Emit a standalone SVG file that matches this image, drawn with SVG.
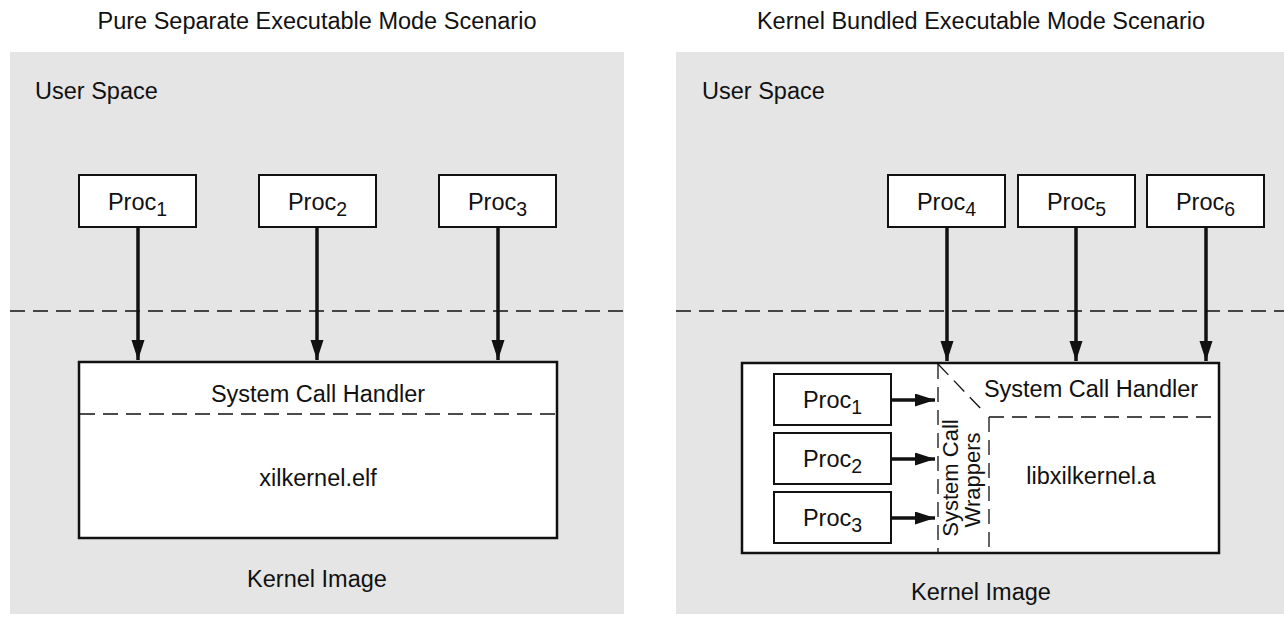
<svg xmlns="http://www.w3.org/2000/svg" width="1284" height="620" viewBox="0 0 1284 620">
<defs>
<style>
text{font-family:"Liberation Sans",Arial,Helvetica,sans-serif;font-size:23.5px;fill:#111}
.c{text-anchor:middle}
.sub{font-size:19.5px}
.panel{fill:#e5e5e5}
.box{fill:#fff;stroke:#111;stroke-width:2}
.big{fill:#fff;stroke:#111;stroke-width:2.5}
.dash{fill:none;stroke:#111;stroke-width:1.3;stroke-dasharray:15 8}
.arr{fill:none;stroke:#111;stroke-width:3.5}
</style>
<marker id="ah" markerUnits="userSpaceOnUse" markerWidth="22" markerHeight="14" refX="20" refY="6.5" orient="auto">
<path d="M0,0 L20,6.5 L0,13 Z" fill="#111"/>
</marker>
</defs>
<rect width="1284" height="620" fill="#fff"/>

<g id="left-panel">
<text class="c" x="317" y="29">Pure Separate Executable Mode Scenario</text>
<rect class="panel" x="10" y="52" width="614" height="562"/>
<text x="35" y="99">User Space</text>
<line class="dash" x1="10" y1="311" x2="624" y2="311"/>
<text class="c" x="317" y="587">Kernel Image</text>
</g>

<g id="right-panel">
<text class="c" x="981" y="29">Kernel Bundled Executable Mode Scenario</text>
<rect class="panel" x="676" y="52" width="608" height="562"/>
<text x="702" y="99">User Space</text>
<line class="dash" x1="676" y1="311" x2="1284" y2="311"/>
<text class="c" x="981" y="600">Kernel Image</text>
</g>

<g id="left-kernel">
<rect class="big" x="79" y="362" width="478" height="176"/>
<line class="dash" x1="80" y1="414" x2="556" y2="414"/>
<text class="c" x="318" y="402">System Call Handler</text>
<text class="c" x="318" y="486">xilkernel.elf</text>
</g>

<g id="left-proc1"><rect class="box" x="79" y="175" width="117" height="52"/><text class="c" x="137.5" y="210">Proc<tspan class="sub" dy="6">1</tspan></text></g>
<g id="left-proc2"><rect class="box" x="259" y="175" width="117" height="52"/><text class="c" x="317.5" y="210">Proc<tspan class="sub" dy="6">2</tspan></text></g>
<g id="left-proc3"><rect class="box" x="439" y="175" width="117" height="52"/><text class="c" x="497.5" y="210">Proc<tspan class="sub" dy="6">3</tspan></text></g>

<g id="right-kernel">
<rect class="big" x="742" y="363" width="477" height="190"/>
<line class="dash" x1="938" y1="364" x2="938" y2="552"/>
<line class="dash" x1="938" y1="364" x2="983" y2="411" stroke-dasharray="14 8"/>
<line class="dash" x1="989" y1="417" x2="1218" y2="417"/>
<line class="dash" x1="989" y1="417" x2="989" y2="552"/>
<text class="c" x="1091" y="397">System Call Handler</text>
<text class="c" x="1091" y="484">libxilkernel.a</text>
<text class="c" style="font-size:22px" transform="translate(958,478) rotate(-90)">System Call</text>
<text class="c" style="font-size:22px" transform="translate(980,480) rotate(-90)">Wrappers</text>
</g>

<g id="inner-proc1"><rect class="box" x="774" y="374" width="117" height="51"/><text class="c" x="832.5" y="408">Proc<tspan class="sub" dy="6">1</tspan></text></g>
<g id="inner-proc2"><rect class="box" x="774" y="433" width="117" height="51"/><text class="c" x="832.5" y="467">Proc<tspan class="sub" dy="6">2</tspan></text></g>
<g id="inner-proc3"><rect class="box" x="774" y="492" width="117" height="51"/><text class="c" x="832.5" y="526">Proc<tspan class="sub" dy="6">3</tspan></text></g>

<g id="right-proc4"><rect class="box" x="888" y="175" width="117" height="52"/><text class="c" x="946.5" y="210">Proc<tspan class="sub" dy="6">4</tspan></text></g>
<g id="right-proc5"><rect class="box" x="1018" y="175" width="117" height="52"/><text class="c" x="1076.5" y="210">Proc<tspan class="sub" dy="6">5</tspan></text></g>
<g id="right-proc6"><rect class="box" x="1147" y="175" width="117" height="52"/><text class="c" x="1205.5" y="210">Proc<tspan class="sub" dy="6">6</tspan></text></g>

<g id="connectors">
<line class="arr" x1="138" y1="227" x2="138" y2="360" marker-end="url(#ah)"/>
<line class="arr" x1="317" y1="227" x2="317" y2="360" marker-end="url(#ah)"/>
<line class="arr" x1="498" y1="227" x2="498" y2="360" marker-end="url(#ah)"/>
<line class="arr" x1="947" y1="227" x2="947" y2="361" marker-end="url(#ah)"/>
<line class="arr" x1="1076" y1="227" x2="1076" y2="361" marker-end="url(#ah)"/>
<line class="arr" x1="1206" y1="227" x2="1206" y2="361" marker-end="url(#ah)"/>
<line class="arr" x1="891" y1="400" x2="935" y2="400" marker-end="url(#ah)"/>
<line class="arr" x1="891" y1="459" x2="935" y2="459" marker-end="url(#ah)"/>
<line class="arr" x1="891" y1="518" x2="935" y2="518" marker-end="url(#ah)"/>
</g>
</svg>
